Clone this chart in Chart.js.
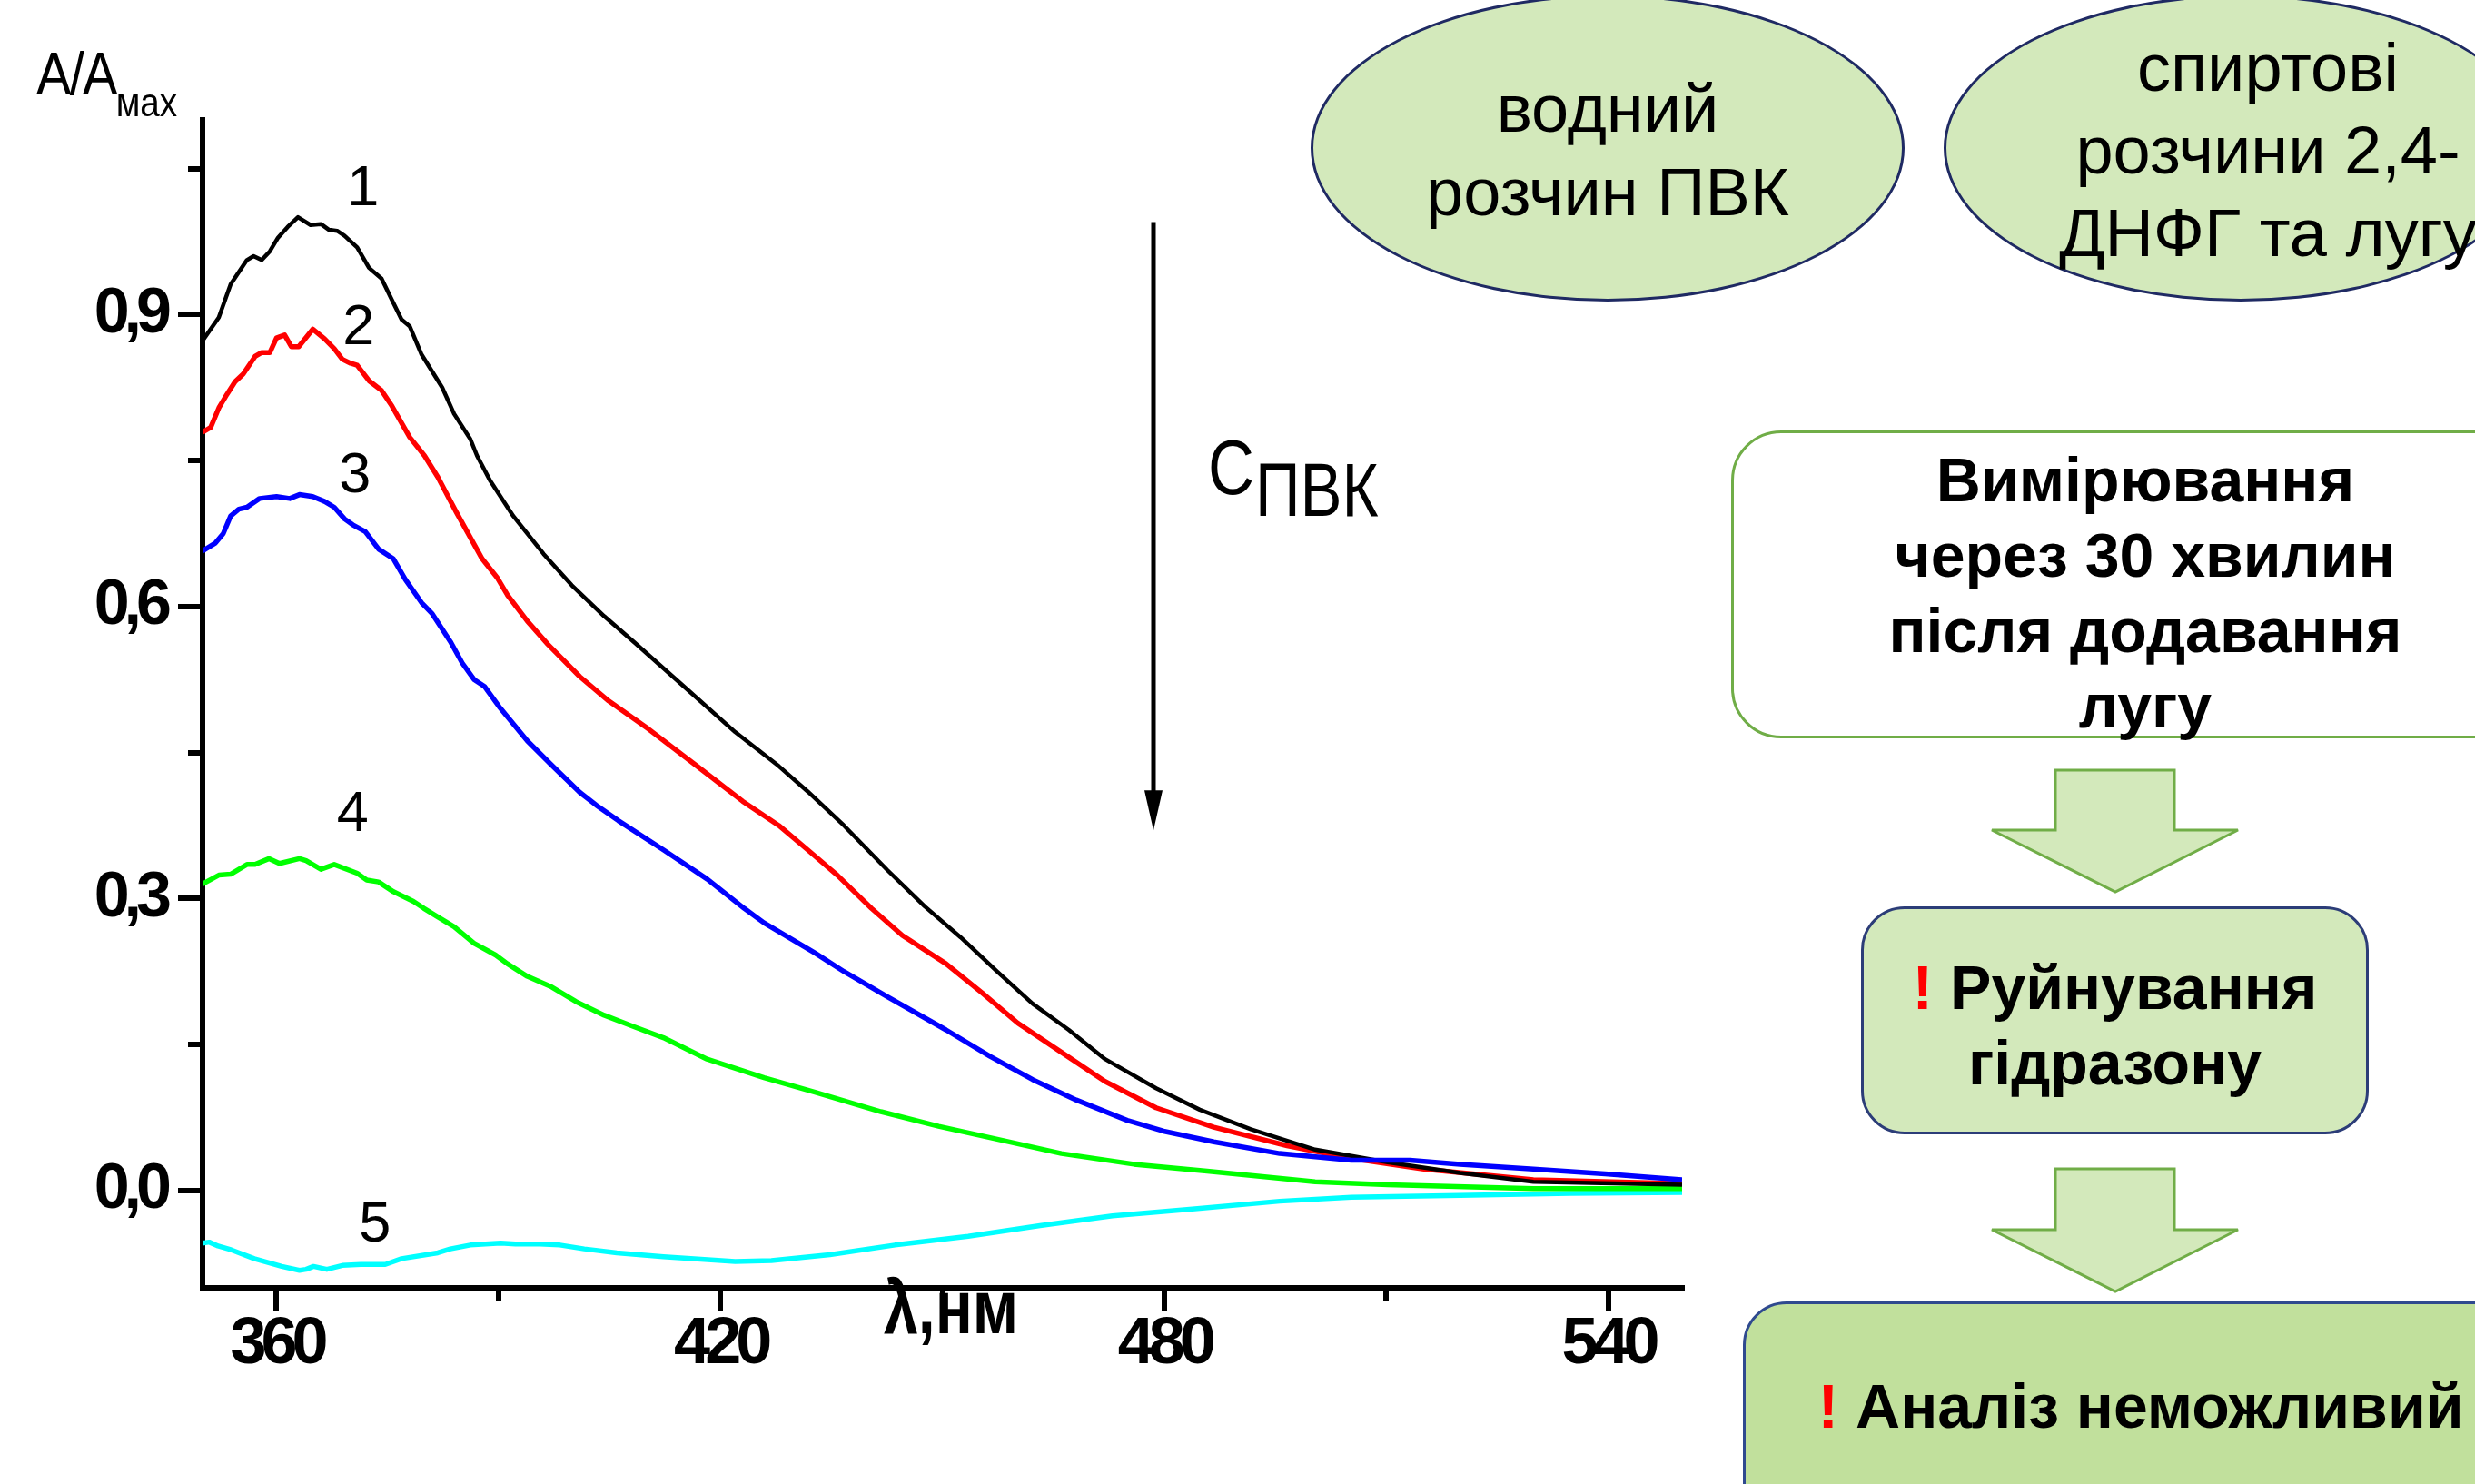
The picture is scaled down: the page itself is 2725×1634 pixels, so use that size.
<!DOCTYPE html>
<html lang="uk">
<head>
<meta charset="utf-8">
<title>A/Amax - спектри</title>
<script src="https://cdn.jsdelivr.net/npm/chart.js@4.4.1/dist/chart.umd.min.js"></script>
<style>
  html, body { margin:0; padding:0; background:#fff; }
  body { width:2725px; height:1634px; position:relative; overflow:hidden; font-family:'Liberation Sans', Arial, sans-serif; color:#000; }
  #wrap { position:absolute; left:0; top:0; width:2725px; height:1634px; }
  .narrow { font-family:'Liberation Sans Narrow', 'Liberation Sans', Arial, sans-serif; transform:scaleX(0.82); transform-origin:0 0; }
  .abs { position:absolute; white-space:nowrap; line-height:1; }
  .ell { position:absolute; box-sizing:border-box; border:3px solid #1f2a63; border-radius:50%; background:#d3e9bb; }
  .box { position:absolute; box-sizing:border-box; border-radius:48px; }
  .etxt { position:absolute; text-align:center; font-size:74px; white-space:nowrap; }
  .btxt { position:absolute; text-align:center; font-size:68px; font-weight:bold; line-height:83px; white-space:nowrap; }
  .red { color:#ff0000; }
  svg { position:absolute; left:0; top:0; }
</style>
</head>
<body>
<div id="wrap"><canvas id="grafico"></canvas></div>

<!-- підписи осей -->
<div class="abs narrow" style="left:40px; top:47px; font-size:67px; letter-spacing:-2px; transform:scaleX(0.86);">A/A<span style="font-size:45px; vertical-align:-24px; letter-spacing:0;">мах</span></div>
<div class="abs narrow" style="left:973px; top:1398px; font-size:83px; font-weight:bold;">λ,нм</div>
<div class="abs narrow" style="left:1330px; top:471px; font-size:86px;">С</div>
<div class="abs narrow" style="left:1382px; top:497px; font-size:84px;">ПВК</div>

<!-- схема праворуч -->
<div class="ell" style="left:1443px; top:-6px; width:654px; height:338px;"></div>
<div class="etxt" style="left:1443px; width:654px; top:74px; line-height:92px;">водний<br>розчин ПВК</div>
<div class="ell" style="left:2140px; top:-6px; width:654px; height:338px;"></div>
<div class="etxt" style="left:2097px; width:800px; top:29px; line-height:91px;">спиртові<br>розчини 2,4-<br>ДНФГ та лугу</div>

<div class="box" style="left:1906px; top:474px; width:912px; height:339px; border:3px solid #70ad47; background:#fff; border-radius:55px;"></div>
<div class="btxt" style="left:1906px; width:912px; top:487px;">Вимірювання<br>через 30 хвилин<br>після додавання<br>лугу</div>

<svg width="2725" height="1634">
  <polygon points="2263,848 2394,848 2394,914 2464,914 2329,982 2193,914 2263,914" fill="#d3e9bb" stroke="#70ad47" stroke-width="3"/>
  <polygon points="2263,1287 2394,1287 2394,1354 2464,1354 2329,1422 2193,1354 2263,1354" fill="#d3e9bb" stroke="#70ad47" stroke-width="3"/>
</svg>

<div class="box" style="left:2049px; top:998px; width:559px; height:251px; border:3px solid #2c3d78; background:#d3e9bb;"></div>
<div class="btxt" style="left:2049px; width:559px; top:1046px;"><span class="red">!</span> Руйнування<br>гідразону</div>

<div class="box" style="left:1919px; top:1433px; width:876px; height:300px; border:3px solid #2f4a8f; background:#c1e09c;"></div>
<div class="btxt" style="left:1919px; width:876px; top:1507px;"><span class="red">!</span> Аналіз неможливий</div>

<script>
// шкали
const wlTicks = [360, 420, 480, 540];
const wlMinor = [390, 450, 510];
const aTicks = [0, 0.3, 0.6, 0.9];
const aMinor = [0.15, 0.45, 0.75, 1.05];

// спектри, [λ нм, A/Amax]
const curve1 = [[350.0,0.873],[352.2,0.897],[353.8,0.931],[356.0,0.956],[356.9,0.960],[358.0,0.956],[359.1,0.965],[360.2,0.979],[361.5,0.990],[362.9,1.000],[364.6,0.992],[366.0,0.993],[367.1,0.987],[368.2,0.986],[369.2,0.981],[370.9,0.969],[372.5,0.948],[374.2,0.937],[375.6,0.915],[376.9,0.895],[378.0,0.888],[379.6,0.859],[382.4,0.825],[384.0,0.798],[386.2,0.772],[387.1,0.755],[388.9,0.729],[392.0,0.693],[396.1,0.654],[399.9,0.622],[404.3,0.590],[408.4,0.563],[415.2,0.517],[422.0,0.471],[427.9,0.436],[431.8,0.410],[436.7,0.375],[442.6,0.329],[447.6,0.292],[452.5,0.260],[457.4,0.225],[462.2,0.192],[467.1,0.165],[472.0,0.135],[478.9,0.105],[484.8,0.083],[491.7,0.063],[500.4,0.042],[510.2,0.029],[520.0,0.018],[529.9,0.009],[550.0,0.006]];

const curve2 = [[350.0,0.779],[351.1,0.784],[352.2,0.804],[353.3,0.818],[354.4,0.831],[355.5,0.839],[357.1,0.857],[358.0,0.861],[359.1,0.861],[360.0,0.876],[361.1,0.879],[362.0,0.867],[363.0,0.867],[364.9,0.885],[366.5,0.875],[367.8,0.865],[368.9,0.854],[370.0,0.850],[370.9,0.848],[372.5,0.832],[374.2,0.822],[375.6,0.806],[378.0,0.774],[380.0,0.755],[381.8,0.733],[384.3,0.697],[387.8,0.649],[389.8,0.630],[391.2,0.612],[393.9,0.585],[396.7,0.561],[401.0,0.528],[404.9,0.503],[410.3,0.474],[417.2,0.434],[423.0,0.400],[427.9,0.375],[431.8,0.350],[435.8,0.324],[440.4,0.290],[444.6,0.262],[450.5,0.233],[455.4,0.203],[460.2,0.172],[466.1,0.142],[472.0,0.112],[478.9,0.085],[486.7,0.065],[496.6,0.046],[505.3,0.033],[515.1,0.022],[529.9,0.011],[550.0,0.007]];

const curve3 = [[350.0,0.657],[351.7,0.665],[352.8,0.675],[353.8,0.693],[354.9,0.700],[356.0,0.702],[357.7,0.711],[360.0,0.713],[361.8,0.711],[363.1,0.715],[364.9,0.713],[366.5,0.708],[367.8,0.702],[369.2,0.690],[370.3,0.684],[372.0,0.677],[373.8,0.659],[375.8,0.649],[377.4,0.628],[379.6,0.604],[381.0,0.593],[383.5,0.564],[385.1,0.542],[386.7,0.525],[388.1,0.518],[390.1,0.497],[393.9,0.462],[397.2,0.437],[401.0,0.409],[403.2,0.396],[406.2,0.380],[412.3,0.350],[418.2,0.320],[423.2,0.290],[425.9,0.275],[432.8,0.244],[436.7,0.225],[442.6,0.199],[450.5,0.165],[456.4,0.138],[462.2,0.114],[468.1,0.093],[475.0,0.072],[479.9,0.061],[486.7,0.050],[495.6,0.038],[505.3,0.031],[513.2,0.031],[520.0,0.027],[529.9,0.022],[539.6,0.017],[550.0,0.011]];

const curve4 = [[350.0,0.315],[352.2,0.324],[353.8,0.325],[356.0,0.335],[357.1,0.335],[359.0,0.341],[360.4,0.336],[363.1,0.341],[364.0,0.339],[366.0,0.330],[367.8,0.335],[370.9,0.326],[372.2,0.319],[373.8,0.317],[375.8,0.307],[378.5,0.297],[379.9,0.290],[381.8,0.281],[384.0,0.271],[386.7,0.254],[389.6,0.242],[391.2,0.233],[393.9,0.220],[397.2,0.209],[400.5,0.194],[404.3,0.180],[408.4,0.168],[412.3,0.157],[418.2,0.135],[425.9,0.116],[432.8,0.101],[441.7,0.081],[449.5,0.066],[458.4,0.051],[466.1,0.038],[475.9,0.027],[485.8,0.020],[500.4,0.009],[510.2,0.006],[529.9,0.002],[550.0,0.002]];

const curve5 = [[350.0,-0.054],[350.9,-0.053],[352.1,-0.057],[353.9,-0.061],[357.0,-0.070],[360.7,-0.078],[363.1,-0.082],[364.0,-0.081],[365.0,-0.078],[366.8,-0.081],[368.9,-0.077],[371.4,-0.076],[374.7,-0.076],[376.9,-0.070],[381.8,-0.064],[383.5,-0.060],[386.2,-0.056],[390.3,-0.054],[392.3,-0.055],[395.6,-0.055],[398.3,-0.056],[401.6,-0.060],[406.0,-0.064],[412.3,-0.068],[422.0,-0.073],[426.9,-0.072],[434.8,-0.066],[443.6,-0.056],[453.5,-0.047],[463.2,-0.036],[473.0,-0.026],[483.8,-0.019],[495.6,-0.011],[505.3,-0.007],[520.0,-0.005],[534.8,-0.003],[550.0,-0.002]];

// номери кривих, [текст, λ, A] (центр цифри)
const curveLabels = [['1', 371.7, 1.033], ['2', 371.1, 0.890], ['3', 370.6, 0.738], ['4', 370.3, 0.390], ['5', 373.3, -0.032]];
// стрілка: C(ПВК) зменшується
const arrowLine = { x: 478.6, from: 0.995, to: 0.370 };

const FONT = "'Liberation Sans', Arial, sans-serif";

function toXY(arr) {
  return arr.map(p => ({ x: p[0], y: p[1] }));
}

function serie(arr, colore, spessore, ordine) {
  return {
    data: toXY(arr),
    borderColor: colore,
    borderWidth: spessore,
    pointRadius: 0,
    tension: 0,
    fill: false,
    borderJoinStyle: 'round',
    order: ordine
  };
}

// малі поділки, номери кривих, стрілка
const extraPlugin = {
  id: 'extra',
  beforeDraw(chart) {
    // цифри на осях щільніші, як в оригіналі
    chart.ctx.letterSpacing = '-6px';
  },
  afterDraw(chart) {
    const ctx = chart.ctx;
    const sx = chart.scales.x;
    const sy = chart.scales.y;
    ctx.save();
    ctx.letterSpacing = '0px';
    ctx.strokeStyle = '#000';
    ctx.lineWidth = 6;
    ctx.beginPath();
    aMinor.forEach(v => {
      const y = Math.round(sy.getPixelForValue(v));
      ctx.moveTo(sy.right - 16, y);
      ctx.lineTo(sy.right, y);
    });
    wlMinor.forEach(v => {
      const x = Math.round(sx.getPixelForValue(v));
      ctx.moveTo(x, sx.top);
      ctx.lineTo(x, sx.top + 15);
    });
    ctx.stroke();

    ctx.fillStyle = '#000';
    ctx.font = '63px ' + FONT;
    ctx.textAlign = 'center';
    ctx.textBaseline = 'alphabetic';
    curveLabels.forEach(l => {
      ctx.fillText(l[0], sx.getPixelForValue(l[1]), sy.getPixelForValue(l[2]) + 22);
    });

    const ax = Math.round(sx.getPixelForValue(arrowLine.x));
    const y1 = sy.getPixelForValue(arrowLine.from);
    const y2 = sy.getPixelForValue(arrowLine.to);
    ctx.lineWidth = 5;
    ctx.beginPath();
    ctx.moveTo(ax, y1);
    ctx.lineTo(ax, y2 - 40);
    ctx.stroke();
    ctx.beginPath();
    ctx.moveTo(ax - 10, y2 - 44);
    ctx.lineTo(ax + 10, y2 - 44);
    ctx.lineTo(ax, y2);
    ctx.closePath();
    ctx.fill();
    ctx.restore();
  }
};

new Chart(document.getElementById('grafico'), {
  type: 'line',
  data: {
    datasets: [
      serie(curve1, '#000000', 4.5, 1),
      serie(curve2, '#ff0000', 5.5, 2),
      serie(curve3, '#0000ff', 5.5, 0),
      serie(curve4, '#00ff00', 5.5, 3),
      serie(curve5, '#00ffff', 5.5, 4)
    ]
  },
  plugins: [extraPlugin],
  options: {
    responsive: true,
    maintainAspectRatio: false,
    animation: false,
    events: [],
    layout: { padding: { left: 0, top: 132, right: 873, bottom: 0 } },
    plugins: { legend: { display: false }, tooltip: { enabled: false } },
    scales: {
      x: {
        type: 'linear',
        min: 350,
        max: 550,
        afterBuildTicks: s => { s.ticks = wlTicks.map(v => ({ value: v })); },
        afterFit: s => { s.height = 216; },
        border: { display: true, color: '#000', width: 6 },
        grid: { display: true, drawOnChartArea: false, drawTicks: true, tickLength: 26, lineWidth: 6, color: '#000' },
        ticks: {
          color: '#000',
          padding: -6,
          maxRotation: 0,
          font: { family: FONT, size: 72, weight: 'bold' },
          callback: v => String(v)
        }
      },
      y: {
        type: 'linear',
        min: -0.1,
        max: 1.1,
        afterBuildTicks: s => { s.ticks = aTicks.map(v => ({ value: v })); },
        afterFit: s => { s.width = 223; },
        border: { display: true, color: '#000', width: 6 },
        grid: { display: true, drawOnChartArea: false, drawTicks: true, tickLength: 27, lineWidth: 6, color: '#000' },
        ticks: {
          color: '#000',
          padding: 13,
          font: { family: FONT, size: 70, weight: 'bold' },
          callback: v => v.toFixed(1).replace('.', ',')
        }
      }
    }
  }
});
</script>
</body>
</html>
